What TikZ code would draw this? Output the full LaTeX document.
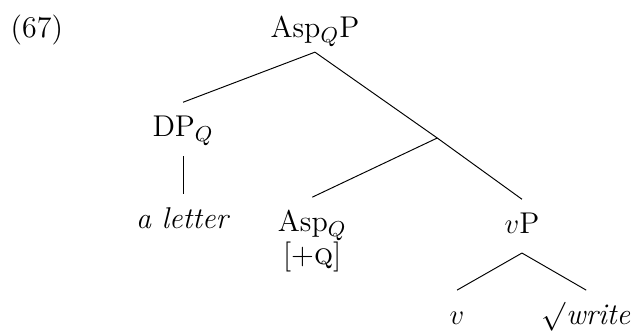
\documentclass[tikz,border=0pt]{standalone}
\usepackage{tikz}
\tikzset{
  lab/.style={font=\fontsize{12.5}{15}\selectfont, inner sep=5pt,
    text height=9pt, text depth=3pt},
  edge/.style={thin}
}
\begin{document}
\begin{tikzpicture}
  \useasboundingbox (0,0) rectangle (9.28,-4.845);
  \node[lab] (ex) at (0.54,-0.44) {(67)};
  \node[lab, inner sep=3pt] (aspqp) at (4.61,-0.44) {Asp$_Q$P};
  \node[lab] (dpq) at (2.68,-1.89) {DP$_Q$};
  \node[lab] (letter) at (2.68,-3.24) {\textit{a letter}};
  \node[lab] (aspq) at (4.57,-3.28) {Asp$_Q$};
  \node[lab] (feat) at (4.57,-3.77) {[+\textsc{q}]};
  \node[lab] (vp) at (7.64,-3.31) {$v$P};
  \node[lab] (v) at (6.69,-4.64) {$v$};
  \node[lab] (root) at (8.58,-4.64) {$\surd$\textit{write}};
  \coordinate (br) at (6.40,-2.02);
  \draw[edge] (aspqp.south) -- (dpq.north);
  \draw[edge] (aspqp.south) -- (br) -- (vp.north);
  \draw[edge] (br) -- (aspq.north);
  \draw[edge] (dpq.south) -- (letter.north);
  \draw[edge] (vp.south) -- (v.north);
  \draw[edge] (vp.south) -- (root.north);
\end{tikzpicture}
\end{document}
